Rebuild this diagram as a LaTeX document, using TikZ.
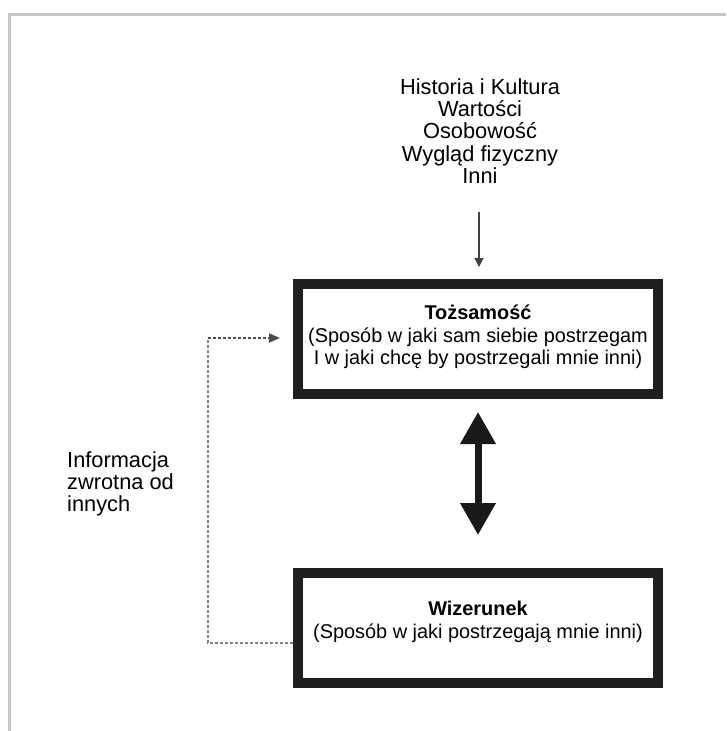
\documentclass[tikz,border=0pt]{standalone}
\usepackage{fontspec}
\setmainfont{Liberation Sans}
\usetikzlibrary{arrows.meta,calc}
\begin{document}
\begin{tikzpicture}[x=1pt,y=-1pt,
  framecol/.style={draw=black!22,line width=3.5pt},
  bigbox/.style={draw=black!88,line width=10pt,minimum width=360pt,minimum height=110pt,inner sep=0pt},
  boxtext/.style={align=center,font=\fontsize{19.9}{22.5}\selectfont,inner sep=0pt},
  outtext/.style={font=\fontsize{21.8}{22.2}\selectfont,inner sep=0pt},
  feedback/.style={draw=black!50,line width=2pt,dash pattern=on 3pt off 2pt},
  thinarrow/.style={draw=black!75,line width=1.3pt,-{Triangle[width=9pt,length=9pt]}},
  bigarrow/.style={draw=black!90,line width=7pt,{Triangle[width=34pt,length=32pt]}-{Triangle[width=34pt,length=32pt]}}
]
\useasboundingbox (0,0) rectangle (726,731);
\fill[white] (0,0) rectangle (726,731);
% frame
\draw[framecol] (726,14.5) -- (9.5,14.5) -- (9.5,731);
% boxes
\node[bigbox] (tb) at (478,339) {};
\node[bigbox] (bb) at (478,628) {};
\node[boxtext] (tbt) at (478,337) {\textbf{Tożsamość}\\(Sposób w jaki sam siebie postrzegam\\I w jaki chcę by postrzegali mnie inni)};
\node[boxtext] (bbt) at (478,622) {\textbf{Wizerunek}\\(Sposób w jaki postrzegają mnie inni)};
% top list
\node[outtext,align=center] (src) at (480,131) {Historia i Kultura\\Wartości\\Osobowość\\Wygląd fizyczny\\Inni};
\coordinate (a1) at (479,212);
\draw[thinarrow,shorten >=12pt] (a1) -- (tb.north -| a1);
% double arrow
\draw[bigarrow,shorten <=13pt,shorten >=33pt] (tb.south) -- (bb.north);
% feedback
\node[outtext,align=left,anchor=west] (fb) at (67,484) {Informacja\\zwrotna od\\innych};
\coordinate (f1) at (208,643);
\coordinate (f2) at (208,338);
\draw[feedback] (bb.west |- f1) -- (f1) -- (f2);
\draw[feedback,draw=black!70,-{Triangle[width=9pt,length=11pt]},shorten >=13pt] (f2) -- (tb.west |- f2);
\end{tikzpicture}
\end{document}
